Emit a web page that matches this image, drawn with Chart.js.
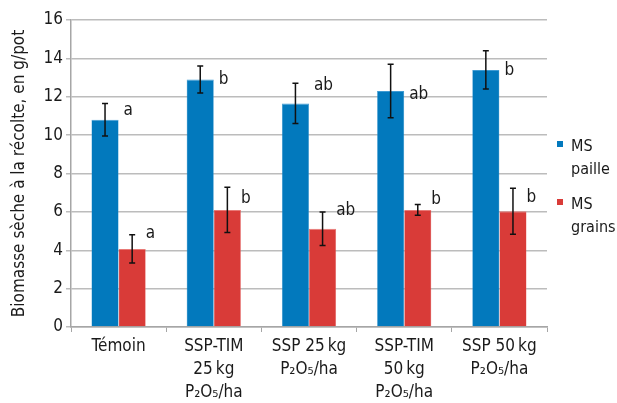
<!DOCTYPE html>
<html lang="fr">
<head>
  <meta charset="UTF-8" />
  <title>Biomasse sèche</title>
  <script src="https://cdn.jsdelivr.net/npm/chart.js"></script>
  <style>
    html, body { margin: 0; padding: 0; background: #fff; }
    #wrap { width: 617px; height: 403px; }
  </style>
</head>
<body>
  <div id="wrap"><canvas id="c"></canvas></div>
  <script>
    const FONT = "'Liberation Sans Narrow', 'DejaVu Sans Condensed', 'Roboto', sans-serif";

    const categories = [
      ['Témoin'],
      ['SSP-TIM', '25\u2009kg', 'P₂O₅/ha'],
      ['SSP 25\u2009kg', 'P₂O₅/ha'],
      ['SSP-TIM', '50\u2009kg', 'P₂O₅/ha'],
      ['SSP 50\u2009kg', 'P₂O₅/ha']
    ];
    const paille = [10.8, 12.9, 11.65, 12.3, 13.4];
    const pailleErr = [0.85, 0.7, 1.05, 1.4, 1.0];
    const grains = [4.07, 6.1, 5.12, 6.1, 6.03];
    const grainsErr = [0.74, 1.18, 0.87, 0.28, 1.2];
    // significance letters and the height (in g/pot) they sit at
    const pailleLetters = ['a', 'b', 'ab', 'ab', 'b'];
    const pailleLetterAt = [11.3, 12.9, 12.6, 12.1, 13.35];
    const grainsLetters = ['a', 'b', 'ab', 'b', 'b'];
    const grainsLetterAt = [4.85, 6.7, 6.05, 6.65, 6.75];
    const yTicks = [0, 2, 4, 6, 8, 10, 12, 14, 16];

    const BLUE = '#0279bd';
    const RED = '#d93b38';

    const extras = {
      id: 'extras',
      afterDatasetsDraw(chart) {
        const ctx = chart.ctx;
        const y = chart.scales.y;
        const info = [
          { err: pailleErr, letters: pailleLetters, at: pailleLetterAt, dx: 5 },
          { err: grainsErr, letters: grainsLetters, at: grainsLetterAt, dx: 0 }
        ];
        ctx.save();
        chart.data.datasets.forEach((ds, di) => {
          const meta = chart.getDatasetMeta(di);
          meta.data.forEach((bar, i) => {
            const v = ds.data[i];
            const e = info[di].err[i];
            const top = y.getPixelForValue(v + e);
            const bot = y.getPixelForValue(v - e);
            ctx.strokeStyle = '#111';
            ctx.lineWidth = 1.5;
            ctx.beginPath();
            ctx.moveTo(bar.x, top); ctx.lineTo(bar.x, bot);
            ctx.moveTo(bar.x - 3, top); ctx.lineTo(bar.x + 3, top);
            ctx.moveTo(bar.x - 3, bot); ctx.lineTo(bar.x + 3, bot);
            ctx.stroke();

            ctx.fillStyle = '#1a1a1a';
            ctx.font = '17px ' + FONT;
            ctx.textAlign = 'left';
            ctx.textBaseline = 'middle';
            ctx.fillText(info[di].letters[i], bar.x + bar.width / 2 + info[di].dx, y.getPixelForValue(info[di].at[i]));
          });
        });
        ctx.restore();
      },
      afterDraw(chart) {
        const ctx = chart.ctx;
        const x0 = chart.chartArea.right + 10;
        const items = [
          { color: BLUE, text: ['MS', 'paille'], y: 146 },
          { color: RED, text: ['MS', 'grains'], y: 204 }
        ];
        ctx.save();
        ctx.font = '16px ' + FONT;
        ctx.textBaseline = 'middle';
        ctx.textAlign = 'left';
        items.forEach(it => {
          ctx.fillStyle = it.color;
          ctx.fillRect(x0, it.y - 5, 6, 6);
          ctx.fillStyle = '#1a1a1a';
          it.text.forEach((t, k) => ctx.fillText(t, x0 + 14, it.y + 1 + k * 23));
        });
        ctx.restore();
      }
    };

    new Chart(document.getElementById('c'), {
      type: 'bar',
      data: {
        labels: categories,
        datasets: [
          { label: 'MS paille', data: paille, backgroundColor: BLUE, borderColor: '#3f9bd3', borderWidth: { top: 1, left: 0.5, right: 0.5, bottom: 0 } },
          { label: 'MS grains', data: grains, backgroundColor: RED, borderColor: '#e87a77', borderWidth: { top: 1, left: 0.5, right: 0.5, bottom: 0 } }
        ]
      },
      options: {
        responsive: true,
        maintainAspectRatio: false,
        animation: false,
        devicePixelRatio: 1,
        layout: { padding: { top: 20, right: 70, left: 0, bottom: 0 } },
        datasets: { bar: { categoryPercentage: 0.57, barPercentage: 1 } },
        plugins: { legend: { display: false }, tooltip: { enabled: false } },
        scales: {
          x: {
            grid: { offset: true, drawOnChartArea: false, color: '#a6a6a6', tickLength: 5 },
            border: { color: '#a6a6a6', width: 1.5 },
            ticks: { color: '#1a1a1a', font: { family: FONT, size: 17, lineHeight: 1.35 }, padding: 3, maxRotation: 0, autoSkip: false },
            afterFit(s) { s.height = 76; }
          },
          y: {
            min: 0, max: 16,
            afterBuildTicks(s) { s.ticks = yTicks.map(v => ({ value: v })); },
            grid: { color: '#bcbcbc', lineWidth: 1.5, tickLength: 5 },
            border: { color: '#a6a6a6', width: 1.5 },
            ticks: { color: '#1a1a1a', font: { family: FONT, size: 17 }, padding: 3 },
            title: { display: true, text: 'Biomasse sèche à la récolte, en g/pot', color: '#1a1a1a', font: { family: FONT, size: 17 }, padding: { top: 9, bottom: 0 } },
            afterFit(s) { s.width = 71; }
          }
        }
      },
      plugins: [extras]
    });
  </script>
</body>
</html>
